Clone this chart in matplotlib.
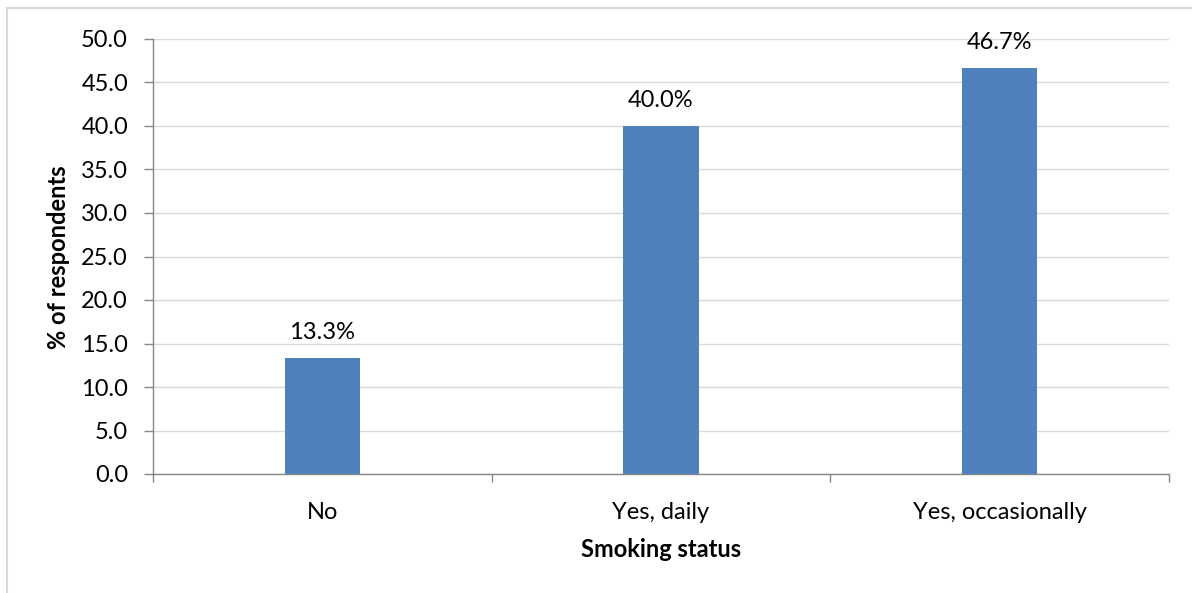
import matplotlib
matplotlib.use("Agg")
import matplotlib.pyplot as plt
from matplotlib.patches import Rectangle

categories = ["No", "Yes, daily", "Yes, occasionally"]
values = [13.3, 40.0, 46.7]
labels = ["13.3%", "40.0%", "46.7%"]
yticks = [0, 5, 10, 15, 20, 25, 30, 35, 40, 45, 50]

plt.rcParams['font.family'] = ['Lato', 'DejaVu Sans']
FS = 17

W, H = 1192, 593
fig = plt.figure(figsize=(W/100, H/100), dpi=100)
fig.patches.append(Rectangle((7/W, -0.1), 1.2, 1 - 8/H + 0.1, transform=fig.transFigure,
                             fill=False, edgecolor='#d9d9d9', linewidth=1.5))
ax = fig.add_axes([153/W, 1 - 474/H, (1169-153)/W, (474-39)/H])

x = list(range(len(categories)))
bars = ax.bar(x, values, width=0.222, color='#4f81bd', zorder=3)
for xi, v, lab in zip(x, values, labels):
    ax.annotate(lab, (xi, v), xytext=(0, 13.7), textcoords='offset points',
                ha='center', va='baseline', fontsize=FS, color='black')

ax.set_xlim(-0.5, 2.5)
ax.set_ylim(0, 50)
ax.set_yticks(yticks)
ax.set_yticklabels([f"{t:.1f}" for t in yticks], fontsize=FS)
ax.set_xticks(x)
ax.set_xticklabels(categories, fontsize=FS)
ax.set_xticks([-0.5, 0.5, 1.5, 2.5], minor=True)
ax.tick_params(axis='x', which='major', length=0, pad=20)
ax.tick_params(axis='x', which='minor', length=6, color='#868686', width=1)
ax.tick_params(axis='y', length=6.5, color='#868686', width=1, pad=11.5)

ax.grid(axis='y', color='#d9d9d9', linewidth=1, zorder=0)
for s in ['top', 'right']:
    ax.spines[s].set_visible(False)
for s in ['left', 'bottom']:
    ax.spines[s].set_color('#868686')
    ax.spines[s].set_linewidth(1)

fig.text(661/W, 1 - 557/H, "Smoking status", ha='center', va='baseline',
         fontsize=FS, fontweight='bold')
fig.text(58/W, 1 - 257/H, "% of respondents", ha='center', va='center',
         rotation=90, fontsize=FS, fontweight='bold')

fig.savefig("out.png", dpi=100)
